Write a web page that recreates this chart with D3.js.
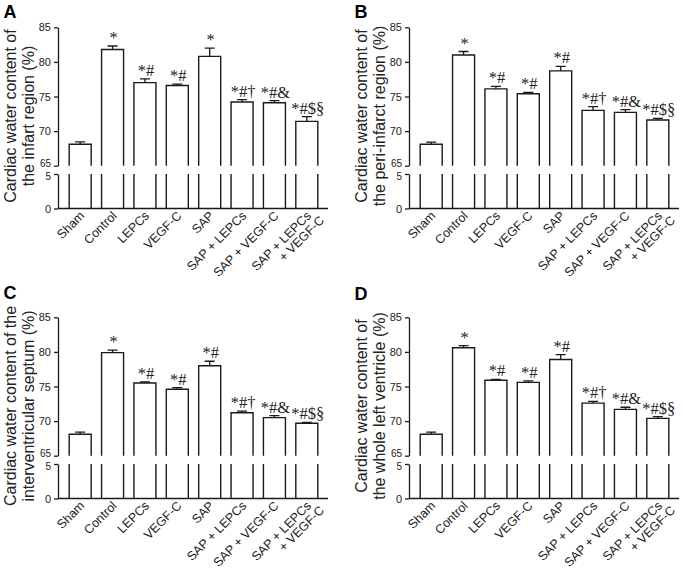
<!DOCTYPE html>
<html>
<head>
<meta charset="utf-8">
<script src="https://cdn.jsdelivr.net/npm/d3@7"></script>
<style>
  body { margin: 0; background: #fff; }
  svg { display: block; }
</style>
</head>
<body>
<div id="view"></div>
<script>
// group names on the x axis
const groups = ["Sham", "Control", "LEPCs", "VEGF-C", "SAP", "SAP + LEPCs", "SAP + VEGF-C", "SAP + LEPCs|+ VEGF-C"];

// mean water content (%) and error (SEM) per group
const infarctMean = [68.1, 81.8, 77.0, 76.6, 80.8, 74.2, 74.1, 71.4];
const infarctErr  = [0.35, 0.5, 0.55, 0.2, 1.2, 0.35, 0.3, 0.7];
const periMean    = [68.1, 81.0, 76.1, 75.4, 78.7, 73.0, 72.7, 71.6];
const periErr     = [0.3, 0.5, 0.35, 0.2, 0.65, 0.55, 0.4, 0.25];
const septumMean  = [68.1, 79.9, 75.5, 74.6, 78.0, 71.2, 70.5, 69.7];
const septumErr   = [0.3, 0.35, 0.15, 0.25, 0.65, 0.25, 0.3, 0.12];
const lvMean      = [68.1, 80.6, 75.9, 75.6, 78.9, 72.6, 71.7, 70.4];
const lvErr       = [0.3, 0.3, 0.12, 0.2, 0.7, 0.25, 0.3, 0.25];

// significance marks above the bars
const marksA   = ["", "*", "*#", "*#", "*", "*#\u2020", "*#&", "*#$\u00a7"];
const marksBCD = ["", "*", "*#", "*#", "*#", "*#\u2020", "*#&", "*#$\u00a7"];

// y axis ticks (broken axis)
const upperTicks = [65, 70, 75, 80, 85];
const lowerTicks = [0, 5];

const panels = [
  {letter: "A", mean: infarctMean, err: infarctErr, marks: marksA,
   title: ["Cardiac water content of", "the infart region (%)"], ox: 0, oy: 0, ly: 18},
  {letter: "B", mean: periMean, err: periErr, marks: marksBCD,
   title: ["Cardiac water content of", "the peri-infarct region (%)"], ox: 351, oy: 0, ly: 18},
  {letter: "C", mean: septumMean, err: septumErr, marks: marksBCD,
   title: ["Cardiac water content of the", "interventricular septum (%)"], ox: 0, oy: 290, ly: 9},
  {letter: "D", mean: lvMean, err: lvErr, marks: marksBCD,
   title: ["Cardiac water content of", "the whole left ventricle (%)"], ox: 351, oy: 290, ly: 10}
];

const W = 685, H = 572;
const svg = d3.select("#view").append("svg")
  .attr("width", W).attr("height", H)
  .style("font-family", "Arial, 'Liberation Sans', sans-serif");

const axisX = 58;
const ink = "#1a1a1a";

panels.forEach(p => {
  const g = svg.append("g").attr("transform", `translate(${p.ox},${p.oy})`);

  const x = d3.scaleBand().domain(groups).range([64, 323])
    .paddingInner(0.32).paddingOuter(0.16);
  const yUp = d3.scaleLinear().domain([65, 85]).range([165.7, 27.3]);
  const yLo = d3.scaleLinear().domain([0, 5]).range([208.5, 174]);
  const bw = x.bandwidth();

  // panel letter
  g.append("text").attr("x", 3.5).attr("y", p.ly)
    .attr("font-size", 18).attr("font-weight", "bold").attr("fill", "#000")
    .text(p.letter);

  // y axis title, two lines
  p.title.forEach((t, i) => {
    g.append("text")
      .attr("transform", `translate(${15.5 + i * 18},116) rotate(-90)`)
      .attr("text-anchor", "middle")
      .attr("font-size", 16).attr("fill", "#222")
      .text(t);
  });

  // upper and lower y axes
  const upAxis = g.append("g").attr("transform", `translate(${axisX},0)`)
    .call(d3.axisLeft(yUp).tickValues(upperTicks).tickFormat(d3.format("d"))
      .tickSize(4).tickSizeOuter(0));
  const loAxis = g.append("g").attr("transform", `translate(${axisX},0)`)
    .call(d3.axisLeft(yLo).tickValues(lowerTicks).tickFormat(d3.format("d"))
      .tickSize(4).tickSizeOuter(0));
  [upAxis, loAxis].forEach(a => {
    a.selectAll("path, line").attr("stroke", ink).attr("stroke-width", 1.3);
    a.selectAll("text").attr("font-size", 11).attr("fill", "#222")
      .attr("font-family", "Arial, 'Liberation Sans', sans-serif");
  });
  upAxis.selectAll(".tick").filter(d => d === 65).select("text")
    .attr("font-size", 10).attr("dy", "0.1em");
  loAxis.selectAll(".tick").filter(d => d === 5).select("text")
    .attr("font-size", 10).attr("dy", "0.55em");

  // x axis line at 0
  g.append("line")
    .attr("x1", axisX).attr("x2", axisX + 270)
    .attr("y1", yLo(0)).attr("y2", yLo(0))
    .attr("stroke", ink).attr("stroke-width", 1.3);

  groups.forEach((name, i) => {
    const x0 = x(name), x1 = x0 + bw, cx = x0 + bw / 2;
    const top = yUp(p.mean[i]);
    // upper bar part: open at the break
    g.append("path")
      .attr("d", `M${x0},${yUp(65)}V${top}H${x1}V${yUp(65)}`)
      .attr("fill", "#fff").attr("stroke", ink).attr("stroke-width", 1.4);
    // lower bar part: two sides from the break down to 0
    g.append("path")
      .attr("d", `M${x0},${yLo(5)}V${yLo(0)}M${x1},${yLo(5)}V${yLo(0)}`)
      .attr("fill", "none").attr("stroke", ink).attr("stroke-width", 1.4);
    // error bar
    const et = yUp(p.mean[i] + p.err[i]);
    g.append("path")
      .attr("d", `M${cx},${top}V${et}M${cx - 5},${et}H${cx + 5}`)
      .attr("fill", "none").attr("stroke", ink).attr("stroke-width", 1.3);
    // significance marks
    if (p.marks[i]) {
      g.append("text")
        .attr("x", cx + 1).attr("y", et - 3)
        .attr("text-anchor", "middle")
        .attr("font-family", "'Liberation Serif', 'Times New Roman', serif")
        .attr("font-size", 16.5).attr("fill", "#222")
        .text(p.marks[i]);
    }
    // rotated category label
    const lines = name.split("|");
    const lab = g.append("text")
      .attr("transform", `translate(${cx + 5},${yLo(0) + 8}) rotate(-45)`)
      .attr("text-anchor", "end")
      .attr("font-size", 12.5).attr("fill", "#222");
    lines.forEach((l, k) => {
      lab.append("tspan").attr("x", k * 6).attr("dy", k === 0 ? 0 : "1em").text(l);
    });
  });
});
</script>
</body>
</html>
